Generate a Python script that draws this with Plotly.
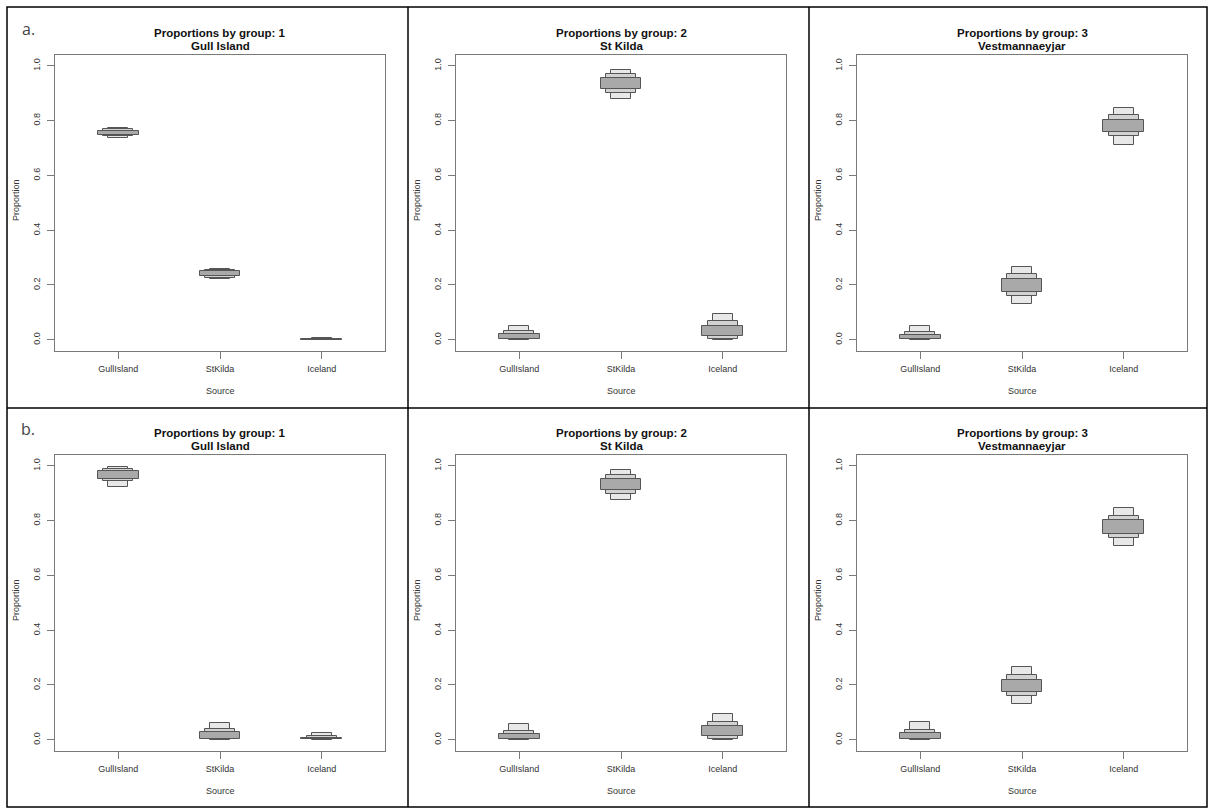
import plotly.graph_objects as go

# ---------------------------------------------------------------
# Source-proportion credible intervals by consumer group
# ---------------------------------------------------------------
sources = ["GullIsland", "StKilda", "Iceland"]
group_ids = [1, 2, 3]
group_names = ["Gull Island", "St Kilda", "Vestmannaeyjar"]
y_ticks = [0.0, 0.2, 0.4, 0.6, 0.8, 1.0]

# Model a: rows = group 1..3, columns = source (GullIsland, StKilda, Iceland)
a_low95 = [[0.737, 0.222, 0.000], [0.000, 0.879, 0.000], [0.000, 0.132, 0.713]]
a_low75 = [[0.743, 0.227, 0.000], [0.001, 0.900, 0.004], [0.001, 0.160, 0.743]]
a_low50 = [[0.748, 0.232, 0.000], [0.002, 0.916, 0.013], [0.002, 0.176, 0.759]]
a_high50 = [[0.764, 0.250, 0.002], [0.021, 0.956, 0.052], [0.018, 0.222, 0.804]]
a_high75 = [[0.769, 0.254, 0.003], [0.031, 0.970, 0.067], [0.029, 0.240, 0.820]]
a_high95 = [[0.774, 0.260, 0.005], [0.052, 0.985, 0.095], [0.049, 0.266, 0.847]]

# Model b
b_low95 = [[0.924, 0.000, 0.000], [0.000, 0.877, 0.000], [0.000, 0.129, 0.709]]
b_low75 = [[0.945, 0.002, 0.001], [0.001, 0.899, 0.004], [0.001, 0.158, 0.737]]
b_low50 = [[0.951, 0.004, 0.002], [0.002, 0.912, 0.012], [0.002, 0.174, 0.753]]
b_high50 = [[0.982, 0.030, 0.008], [0.022, 0.954, 0.051], [0.024, 0.220, 0.801]]
b_high75 = [[0.988, 0.040, 0.012], [0.032, 0.967, 0.065], [0.037, 0.235, 0.817]]
b_high95 = [[0.998, 0.061, 0.026], [0.057, 0.984, 0.095], [0.065, 0.264, 0.845]]

panel_letters = ["a.", "b."]

W, H = 1209, 808
FONT = "Liberation Sans, Arial, sans-serif"
EDGE = "#555555"
AXIS = "#7a7a7a"
TXT = "#333333"

# interval levels drawn widest-range first so the 50% box sits on top
levels = [
    ("95", 0.20, "#e8e8e8"),
    ("75", 0.30, "#d2d2d2"),
    ("50", 0.40, "#a9a9a9"),
]

rows = [
    {"95": (a_low95, a_high95), "75": (a_low75, a_high75), "50": (a_low50, a_high50)},
    {"95": (b_low95, b_high95), "75": (b_low75, b_high75), "50": (b_low50, b_high50)},
]


def fx(x):
    return x / W


def fy(y):
    return 1 - y / H


fig = go.Figure()
layout = {}
annotations = []
shapes = []

for r in range(2):
    for c in range(3):
        k = r * 3 + c + 1
        xa = "x" if k == 1 else f"x{k}"
        ya = "y" if k == 1 else f"y{k}"
        left = 55 + 401 * c
        right = left + 330
        top = 55 + 400 * r
        bottom = top + 295.7

        for name, width, color in levels:
            lo, hi = rows[r][name]
            lows = lo[c]
            highs = hi[c]
            fig.add_trace(go.Bar(
                x=[1, 2, 3],
                y=[h - l for l, h in zip(lows, highs)],
                base=lows,
                width=width,
                marker=dict(color=color, line=dict(color=EDGE, width=1)),
                xaxis=xa, yaxis=ya, showlegend=False,
                hovertemplate="%{base:.3f} – %{y:.3f}<extra></extra>",
            ))

        xkey = "xaxis" if k == 1 else f"xaxis{k}"
        ykey = "yaxis" if k == 1 else f"yaxis{k}"
        layout[xkey] = dict(
            domain=[fx(left), fx(right)], anchor=ya, range=[0.38, 3.62],
            tickvals=[1, 2, 3], ticktext=sources, ticks="outside", ticklen=7,
            tickcolor=AXIS, showline=True, linecolor=AXIS, mirror=True,
            showgrid=False, zeroline=False, ticklabelstandoff=2,
            tickfont=dict(family=FONT, size=9, color=TXT),
        )
        layout[ykey] = dict(
            domain=[fy(bottom), fy(top)], anchor=xa, range=[-0.04, 1.04],
            tickvals=y_ticks, tickformat=".1f", ticks="outside", ticklen=7,
            tickcolor=AXIS, showline=True, linecolor=AXIS, mirror=True,
            showgrid=False, zeroline=False, tickangle=-90, ticklabelstandoff=3,
            tickfont=dict(family=FONT, size=9, color=TXT),
        )

        cx = (left + right) / 2
        annotations.append(dict(
            x=fx(cx), y=fy(33 + 400 * r), xref="paper", yref="paper",
            text=f"<b>Proportions by group: {group_ids[c]}</b>", showarrow=False,
            font=dict(family=FONT, size=11.5, color="#111111"),
            xanchor="center", yanchor="middle",
        ))
        annotations.append(dict(
            x=fx(cx), y=fy(46 + 400 * r), xref="paper", yref="paper",
            text=f"<b>{group_names[c]}</b>", showarrow=False,
            font=dict(family=FONT, size=11.5, color="#111111"),
            xanchor="center", yanchor="middle",
        ))
        annotations.append(dict(
            x=fx(cx), y=fy(391 + 400 * r), xref="paper", yref="paper",
            text="Source", showarrow=False,
            font=dict(family=FONT, size=9, color=TXT),
            xanchor="center", yanchor="middle",
        ))
        annotations.append(dict(
            x=fx(left - 39), y=fy(200 + 400 * r), xref="paper", yref="paper",
            text="Proportion", showarrow=False, textangle=-90,
            font=dict(family=FONT, size=9, color=TXT),
            xanchor="center", yanchor="middle",
        ))

    annotations.append(dict(
        x=fx(28), y=fy(29 + 400 * r), xref="paper", yref="paper",
        text=panel_letters[r], showarrow=False,
        font=dict(family="Open Sans, Noto Sans, sans-serif", size=16, color="#444444"),
        xanchor="center", yanchor="middle",
    ))

# panel frame and dividers
frame = dict(color="#000000", width=1.5)
shapes.append(dict(type="rect", xref="paper", yref="paper",
                   x0=fx(7), x1=fx(1207), y0=fy(807), y1=fy(7), line=frame))
for xv in (408, 809):
    shapes.append(dict(type="line", xref="paper", yref="paper",
                       x0=fx(xv), x1=fx(xv), y0=fy(807), y1=fy(7), line=frame))
shapes.append(dict(type="line", xref="paper", yref="paper",
                   x0=fx(7), x1=fx(1207), y0=fy(408), y1=fy(408), line=frame))

fig.update_layout(
    width=W, height=H, margin=dict(l=0, r=0, t=0, b=0),
    paper_bgcolor="white", plot_bgcolor="white",
    barmode="overlay", bargap=0, showlegend=False,
    annotations=annotations, shapes=shapes,
    **layout,
)

fig.write_html("out.html")
